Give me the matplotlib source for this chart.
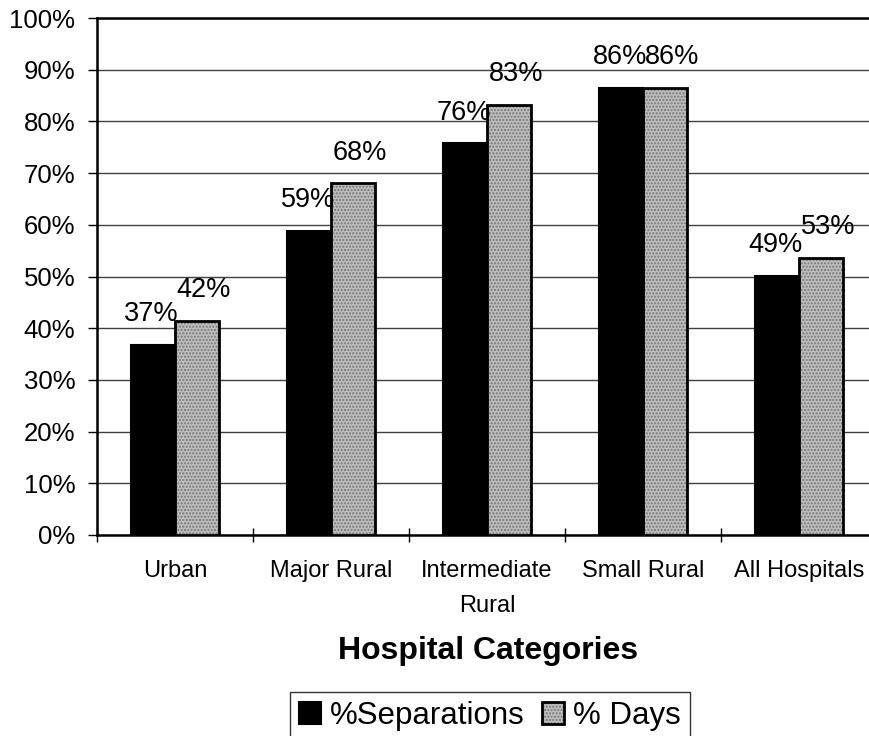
import numpy as np
import matplotlib
matplotlib.use("Agg")
import matplotlib.pyplot as plt

plt.rcParams['font.family'] = ['Liberation Sans', 'DejaVu Sans']

categories = ["Urban", "Major Rural", "Intermediate\nRural", "Small Rural", "All Hospitals"]
separations = [36.8, 58.8, 75.8, 86.5, 50.1]
days = [41.4, 68.0, 83.2, 86.5, 53.6]
sep_labels = ["37%", "59%", "76%", "86%", "49%"]
days_labels = ["42%", "68%", "83%", "86%", "53%"]
yticks = list(range(0, 101, 10))
series_names = ["%Separations", "% Days"]

W, H = 870, 736
fig = plt.figure(figsize=(W / 100, H / 100), dpi=100)
ax = fig.add_axes([97 / W, 1 - 535 / H, 780 / W, 517 / H])

x = np.arange(len(categories))
bw = 0.282

b1 = ax.bar(x - bw / 2, separations, bw, color='black', edgecolor='black',
            linewidth=1.5, zorder=3, label=series_names[0])
b2 = ax.bar(x + bw / 2, days, bw, facecolor='#bcbcbc', edgecolor='black',
            linewidth=2, hatch='.....', zorder=3, label=series_names[1])
for p in b2:
    if hasattr(p, 'set_hatchcolor'):
        p.set_hatchcolor('#777777')
    else:
        p._hatch_color = (0.47, 0.47, 0.47, 1.0)

for xi, v, t in zip(x - bw / 2, separations, sep_labels):
    ax.annotate(t, (xi, v), xytext=(-1, 17), textcoords='offset points',
                ha='center', va='baseline', fontsize=19.5, zorder=5)
for xi, v, t in zip(x + bw / 2, days, days_labels):
    ax.annotate(t, (xi, v), xytext=(5, 17), textcoords='offset points',
                ha='center', va='baseline', fontsize=19.5, zorder=5)

ax.set_xlim(-0.5, len(categories) - 0.5)
ax.set_ylim(0, 100)
ax.set_yticks(yticks)
ax.set_yticklabels([f"{v}%" for v in yticks], fontsize=18.5)
ax.tick_params(axis='y', direction='out', length=6.5, width=1, pad=9)

ax.set_xticks(np.arange(-0.5, len(categories), 1.0))
ax.set_xticklabels([])
ax.tick_params(axis='x', which='major', direction='inout', length=10, width=1)
ax.set_xticks(x, minor=True)
ax.set_xticklabels(categories, minor=True, fontsize=17, linespacing=1.75)
ax.tick_params(axis='x', which='minor', length=0, pad=18)

ax.yaxis.grid(True, color='#404040', linewidth=1)
ax.set_axisbelow(True)
for s in ['left', 'bottom', 'top', 'right']:
    ax.spines[s].set_color('black')
    ax.spines[s].set_linewidth(1.8)

ax.set_xlabel("Hospital Categories", fontsize=23, fontweight='bold', va='center')
ax.xaxis.set_label_coords((488 - 97) / 780, (535 - 651) / 517)

leg = fig.legend(handles=[b1, b2], labels=series_names, loc='center',
                 bbox_to_anchor=(490 / W, 1 - 716 / H), ncol=2, fontsize=22.5,
                 frameon=True, fancybox=False, handlelength=0.7, handleheight=0.7,
                 handletextpad=0.3, columnspacing=0.55, borderpad=0.3)
leg.get_frame().set_edgecolor('black')
leg.get_frame().set_linewidth(1)

fig.savefig("out.png", dpi=100, facecolor='white')
